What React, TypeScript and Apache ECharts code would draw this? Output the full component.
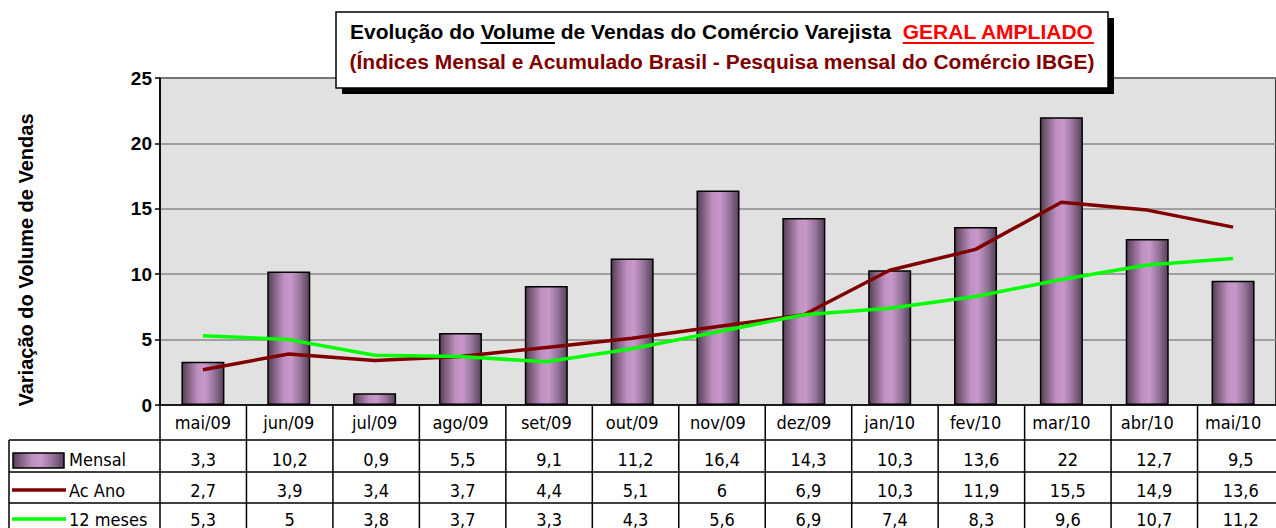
import React, { useEffect, useRef } from "react";
import * as echarts from "echarts";

const categories = ["mai/09", "jun/09", "jul/09", "ago/09", "set/09", "out/09", "nov/09", "dez/09", "jan/10", "fev/10", "mar/10", "abr/10", "mai/10"];
const mensal = [3.3, 10.2, 0.9, 5.5, 9.1, 11.2, 16.4, 14.3, 10.3, 13.6, 22, 12.7, 9.5];
const acAno = [2.7, 3.9, 3.4, 3.7, 4.4, 5.1, 6, 6.9, 10.3, 11.9, 15.5, 14.9, 13.6];
const meses12 = [5.3, 5, 3.8, 3.7, 3.3, 4.3, 5.6, 6.9, 7.4, 8.3, 9.6, 10.7, 11.2];
const seriesNames = ["Mensal", "Ac Ano", "12 meses"];
const yMin = 0;
const yMax = 25;
const yInterval = 5;

const titleSegs = [
  { t: "Evolução do ", c: "#000", u: false },
  { t: "Volume", c: "#000", u: true },
  { t: " de Vendas do Comércio Varejista  ", c: "#000", u: false },
  { t: "GERAL AMPLIADO", c: "#ff0000", u: true },
];
const subtitle = "(Índices Mensal e Acumulado Brasil - Pesquisa mensal do Comércio IBGE)";
const yTitle = "Variação do Volume de Vendas";

const GL = 160, GT = 78, GW = 1124, GH = 327;
const ARIAL = "Liberation Sans, Arial, sans-serif";
const TAB = "DejaVu Sans Condensed, DejaVu Sans, sans-serif";

const fmt = (v: number) => String(v).replace(".", ",");

function barGradient() {
  return new echarts.graphic.LinearGradient(0, 0, 1, 0, [
    { offset: 0, color: "#553c55" },
    { offset: 0.15, color: "#80617f" },
    { offset: 0.38, color: "#c090c3" },
    { offset: 0.55, color: "#c898c9" },
    { offset: 0.78, color: "#94739a" },
    { offset: 1, color: "#574058" },
  ]);
}

export default function App() {
  const ref = useRef<HTMLDivElement>(null);
  useEffect(() => {
    if (!ref.current) return;
    const chart = echarts.init(ref.current, null, { renderer: "svg" });

    const canvas = document.createElement("canvas");
    const ctx = canvas.getContext("2d")!;
    const titleFont = `bold 21px ${ARIAL}`;
    ctx.font = titleFont;
    const widths = titleSegs.map((s) => ctx.measureText(s.t).width);
    const total = widths.reduce((a, b) => a + b, 0);
    const boxX = 336, boxY = 12, boxW = 772, boxH = 76;
    const cx = boxX + boxW / 2;
    let x0 = cx - total / 2;
    const titleEls: any[] = [];
    titleSegs.forEach((s, i) => {
      titleEls.push({
        type: "text", x: x0, y: 31, z: 102,
        style: { text: s.t, fill: s.c, font: titleFont, align: "left", verticalAlign: "middle", textAlign: "left", textVerticalAlign: "middle" },
      });
      if (s.u) {
        titleEls.push({
          type: "line", z: 102,
          shape: { x1: x0, y1: 43, x2: x0 + widths[i], y2: 43 },
          style: { stroke: s.c, lineWidth: 2 },
        });
      }
      x0 += widths[i];
    });

    const cw = GW / categories.length;
    const tableEls: any[] = [];
    const bottom = GT + GH;
    const rows = [440, 472, 503];
    const rowCenters = [459, 490, 519];
    for (let i = 0; i <= categories.length; i++) {
      const x = GL + cw * i;
      tableEls.push({ type: "line", z: 50, shape: { x1: x, y1: bottom, x2: x, y2: 540 }, style: { stroke: "#000", lineWidth: 1.5 } });
    }
    tableEls.push({ type: "line", z: 50, shape: { x1: 9, y1: 440, x2: 9, y2: 540 }, style: { stroke: "#000", lineWidth: 1.5 } });
    rows.forEach((y) => {
      tableEls.push({ type: "line", z: 50, shape: { x1: 9, y1: y, x2: GL + GW, y2: y }, style: { stroke: "#000", lineWidth: 1.5 } });
    });
    const dataRows = [mensal, acAno, meses12];
    dataRows.forEach((arr, r) => {
      arr.forEach((v, i) => {
        tableEls.push({
          type: "text", z: 50, x: GL + cw * (i + 0.5), y: rowCenters[r],
          style: { text: fmt(v), fill: "#000", font: `18px ${TAB}`, align: "center", verticalAlign: "middle", textAlign: "center", textVerticalAlign: "middle" },
        });
      });
      tableEls.push({
        type: "text", z: 50, x: 69, y: rowCenters[r],
        style: { text: seriesNames[r], fill: "#000", font: `18px ${TAB}`, align: "left", verticalAlign: "middle", textAlign: "left", textVerticalAlign: "middle" },
      });
    });
    tableEls.push({ type: "rect", z: 50, shape: { x: 13, y: 453, width: 51, height: 15 }, style: { fill: barGradient(), stroke: "#000", lineWidth: 1.5 } });
    tableEls.push({ type: "line", z: 50, shape: { x1: 12, y1: 490, x2: 66, y2: 490 }, style: { stroke: "#800000", lineWidth: 3.5 } });
    tableEls.push({ type: "line", z: 50, shape: { x1: 12, y1: 519, x2: 66, y2: 519 }, style: { stroke: "#00ff00", lineWidth: 3.5 } });

    const option: any = {
      animation: false,
      backgroundColor: "#fff",
      grid: { left: GL, top: GT, width: GW, height: GH, show: true, backgroundColor: "#e1e1e1", borderColor: "#000", borderWidth: 1.5 },
      xAxis: {
        type: "category", data: categories,
        axisLine: { lineStyle: { color: "#000", width: 1.5 } },
        axisTick: { show: false },
        axisLabel: { color: "#000", fontFamily: TAB, fontSize: 18, margin: 8, interval: 0 },
      },
      yAxis: {
        type: "value", min: yMin, max: yMax, interval: yInterval,
        axisLine: { show: true, lineStyle: { color: "#000", width: 1.5 } },
        axisTick: { show: true, length: 5, lineStyle: { color: "#000", width: 1.5 } },
        axisLabel: { color: "#000", fontFamily: ARIAL, fontWeight: "bold", fontSize: 19, margin: 8 },
        splitLine: { show: true, lineStyle: { color: "#888", width: 1.5 } },
      },
      series: [
        { name: seriesNames[0], type: "bar", data: mensal, barWidth: 43, itemStyle: { color: barGradient(), borderColor: "#000", borderWidth: 1.5 } },
        { name: seriesNames[1], type: "line", data: acAno, symbol: "none", lineStyle: { color: "#800000", width: 3.5 }, itemStyle: { color: "#800000" } },
        { name: seriesNames[2], type: "line", data: meses12, symbol: "none", lineStyle: { color: "#00ff00", width: 3.5 }, itemStyle: { color: "#00ff00" } },
      ],
      graphic: [
        { type: "rect", z: 100, shape: { x: boxX + 6, y: boxY + 6, width: boxW, height: boxH }, style: { fill: "#000" } },
        { type: "rect", z: 101, shape: { x: boxX, y: boxY, width: boxW, height: boxH }, style: { fill: "#fff", stroke: "#000", lineWidth: 1.5 } },
        ...titleEls,
        {
          type: "text", z: 102, x: cx, y: 61,
          style: { text: subtitle, fill: "#800000", font: titleFont, align: "center", verticalAlign: "middle", textAlign: "center", textVerticalAlign: "middle" },
        },
        {
          type: "text", z: 50, x: 26, y: 260, rotation: Math.PI / 2,
          style: { text: yTitle, fill: "#000", font: `bold 20px ${ARIAL}`, align: "center", verticalAlign: "middle", textAlign: "center", textVerticalAlign: "middle" },
        },
        ...tableEls,
      ],
    };
    chart.setOption(option);
    return () => chart.dispose();
  }, []);
  return <div ref={ref} style={{ position: "fixed", left: 0, top: 0, width: 1276, height: 528 }} />;
}
